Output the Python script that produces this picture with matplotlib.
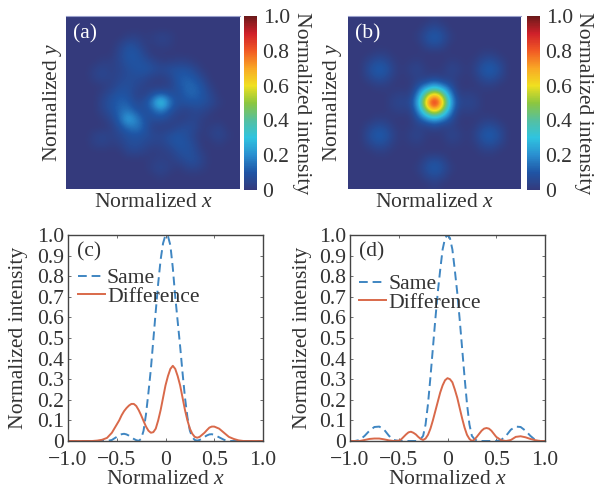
import matplotlib
matplotlib.use("Agg")
import matplotlib.pyplot as plt
import numpy as np
from matplotlib.colors import LinearSegmentedColormap

plt.rcParams['font.family'] = ['Liberation Serif', 'DejaVu Serif']
plt.rcParams['mathtext.fontset'] = 'custom'
plt.rcParams['mathtext.rm'] = 'Liberation Serif'
plt.rcParams['mathtext.it'] = 'Liberation Serif:italic'

W, H = 594, 488
FS = 15.6
TXT = '#333333'

# intensity, 21 x 21 cells
field_a = [
    [0, 0, 0, 0, 0, 0, 0, 0, 0, 0, 0, 0, 0, 0, 0, 0, 0, 0, 0, 0, 0],
    [0, 0, 0, 0, 0, 0, 0, 0, 0, 0, 0, 0, 0, 0, 0, 0, 0, 0, 0, 0, 0],
    [0, 0, 0, 0, 0, 0, 0, .02, .03, .01, .02, .04, .03, 0, 0, 0, 0, 0, 0, 0, 0],
    [0, 0, 0, 0, 0, 0, .03, .08, .07, .02, .01, .03, .02, 0, 0, 0, 0, 0, 0, 0, 0],
    [0, 0, 0, 0, 0, 0, .05, .10, .10, .05, 0, 0, 0, 0, 0, 0, 0, 0, 0, 0, 0],
    [0, 0, 0, 0, .02, .02, .05, .09, .10, .08, .05, .02, .02, .03, .03, .01, 0, 0, 0, 0, 0],
    [0, 0, 0, .03, .05, .03, .04, .07, .09, .10, .08, .06, .08, .09, .09, .06, .01, 0, 0, 0, 0],
    [0, 0, 0, .03, .05, .03, .05, .07, .07, .06, .03, .02, .04, .10, .12, .10, .05, 0, 0, 0, 0],
    [0, 0, 0, 0, .01, .03, .07, .08, .06, .03, .015, .02, .03, .09, .13, .13, .09, .02, 0, 0, 0],
    [0, 0, 0, 0, .03, .07, .10, .09, .04, .03, .09, .12, .09, .07, .12, .13, .10, .05, 0, 0, 0],
    [0, 0, 0, 0, .05, .09, .12, .12, .06, .08, .17, .38, .17, .08, .09, .10, .09, .06, .02, 0, 0],
    [0, 0, 0, 0, .04, .08, .13, .16, .10, .07, .11, .17, .10, .05, .03, .05, .05, .02, 0, 0, 0],
    [0, 0, 0, 0, .01, .05, .12, .26, .19, .09, .07, .08, .05, .02, .03, .05, .02, 0, 0, 0, 0],
    [0, 0, 0, 0, 0, .02, .08, .14, .17, .11, .03, .02, .02, .05, .07, .06, .01, .02, .04, 0, 0],
    [0, 0, 0, .03, .05, .03, .05, .08, .09, .08, .06, .05, .08, .10, .08, .04, 0, .03, .05, .02, 0],
    [0, 0, 0, .03, .04, .02, .03, .07, .08, .06, .04, .04, .07, .10, .09, .06, 0, 0, .02, 0, 0],
    [0, 0, 0, 0, 0, 0, 0, .04, .05, .03, .01, .02, .03, .07, .09, .07, .02, 0, 0, 0, 0],
    [0, 0, 0, 0, 0, 0, 0, 0, 0, 0, .02, .03, .02, .04, .07, .08, .04, 0, 0, 0, 0],
    [0, 0, 0, 0, 0, 0, 0, 0, 0, 0, .03, .05, .03, 0, .03, .04, .02, 0, 0, 0, 0],
    [0, 0, 0, 0, 0, 0, 0, 0, 0, 0, 0, .02, 0, 0, 0, 0, 0, 0, 0, 0, 0],
    [0, 0, 0, 0, 0, 0, 0, 0, 0, 0, 0, 0, 0, 0, 0, 0, 0, 0, 0, 0, 0],
]

# panel (b) is mirror symmetric, so only rows 0-10 are listed
field_b_top = [
    [0, 0, 0, 0, 0, 0, 0, 0, 0, 0, .02, 0, 0, 0, 0, 0, 0, 0, 0, 0, 0],
    [0, 0, 0, 0, 0, 0, 0, 0, 0, .04, .07, .04, 0, 0, 0, 0, 0, 0, 0, 0, 0],
    [0, 0, 0, 0, 0, 0, 0, 0, .02, .08, .12, .08, .02, 0, 0, 0, 0, 0, 0, 0, 0],
    [0, 0, 0, 0, 0, 0, 0, 0, 0, .05, .08, .05, 0, 0, 0, 0, 0, 0, 0, 0, 0],
    [0, 0, 0, .02, .02, 0, 0, 0, 0, 0, 0, 0, 0, 0, 0, 0, .02, .02, 0, 0, 0],
    [0, 0, .04, .08, .07, .02, 0, .01, .02, 0, 0, 0, .02, .01, 0, .02, .07, .08, .04, 0, 0],
    [0, 0, .07, .12, .11, .04, 0, .03, .05, .01, 0, .01, .05, .03, 0, .04, .11, .12, .07, 0, 0],
    [0, 0, .04, .08, .07, .02, 0, .01, .03, .02, .05, .02, .03, .01, 0, .02, .07, .08, .04, 0, 0],
    [0, 0, 0, .02, .02, 0, 0, 0, .08, .17, .24, .17, .08, 0, 0, 0, .02, .02, 0, 0, 0],
    [0, 0, 0, 0, 0, .02, .03, .02, .17, .48, .68, .48, .17, .02, .03, .02, 0, 0, 0, 0, 0],
    [0, 0, 0, 0, 0, .04, .05, .05, .24, .68, 1.0, .68, .24, .05, .05, .04, 0, 0, 0, 0, 0],
]
field_b = field_b_top + field_b_top[-2::-1]

cbar_ticks = [0, 0.2, 0.4, 0.6, 0.8, 1.0]
cbar_labels = ['0', '0.2', '0.4', '0.6', '0.8', '1.0']

cmap_stops = ['#343a7c', '#1f55a5', '#2a8fd0', '#2fc4e0', '#55c0a0', '#8cc63f',
              '#f0e020', '#f9a825', '#f15a24', '#d0202a', '#6b1a1a']

# line profiles, every 0.05 in the tails and every 0.025 from -0.5 to 0.5
x_vals = ([round(-1 + 0.05 * i, 3) for i in range(10)]
          + [round(-0.5 + 0.025 * i, 3) for i in range(41)]
          + [round(0.55 + 0.05 * i, 3) for i in range(10)])

c_same = [0, 0, 0, 0, 0, 0, 0, 0, 0, .005,
          .02, .028, .033, .035, .032, .026, .018, .01, .004, .001, .01, .05, .13, .235, .35, .49, .63, .765, .88, .96, 1.0,
          .995, .95, .84, .70, .58, .46, .33, .21, .115, .05, .018, .005, .002, .005, .012, .02, .027, .032, .033, .03,
          .018, .006, 0, 0, 0, 0, 0, 0, 0, 0]
c_diff = [0, 0, 0, 0, 0, 0, .002, .006, .015, .04,
          .08, .1, .125, .145, .16, .172, .18, .18, .17, .15, .125, .097, .07, .05, .04, .043, .06, .1, .15, .21, .27,
          .315, .35, .365, .35, .315, .27, .21, .15, .1, .06, .035, .02, .016, .02, .03, .04, .053, .065, .07, .07,
          .06, .04, .02, .01, .003, 0, 0, 0, 0, 0]
d_same = [0, 0, .005, .025, .05, .068, .07, .055, .025, .005,
          0, 0, 0, 0, 0, 0, 0, 0, .002, .01, .025, .08, .18, .31, .45, .59, .72, .83, .93, .985, 1.0,
          .985, .93, .83, .72, .59, .45, .31, .18, .08, .025, .01, .002, 0, 0, 0, 0, 0, 0, 0, 0,
          .005, .025, .055, .07, .068, .05, .025, .005, 0, 0]
d_diff = [0, 0, 0, .005, .01, .012, .012, .008, .003, 0,
          .002, .008, .02, .032, .042, .045, .04, .032, .02, .01, .005, .012, .03, .06, .10, .145, .19, .235, .27, .295, .305,
          .3, .285, .25, .21, .16, .11, .065, .03, .01, 0, .006, .02, .035, .05, .06, .063, .06, .05, .035, .02,
          .004, 0, .005, .02, .023, .018, .01, .004, 0, 0]

x_ticks = [-1, -0.5, 0, 0.5, 1]
x_labels = ['\u22121.0', '\u22120.5', '0', '0.5', '1.0']
y_ticks = [i / 10 for i in range(11)]
y_labels = ['0'] + ['%.1f' % (i / 10) for i in range(1, 11)]


def px_axes(fig, left, top, right, bottom):
    return fig.add_axes([left / W, 1 - bottom / H, (right - left) / W, (bottom - top) / H])


fig = plt.figure(figsize=(W / 100, H / 100), dpi=100)
cmap = LinearSegmentedColormap.from_list('nearjet', cmap_stops)


def heat(field, tag, box, cbox, ylab_x, cbl_x, shift):
    ax = px_axes(fig, *box)
    ax.set_facecolor(cmap(0))
    ext = (-0.5 - shift, 20.5 - shift, 20.5, -0.5)
    im = ax.imshow(np.array(field), cmap=cmap, vmin=0, vmax=1, interpolation='bicubic',
                   aspect='auto', extent=ext)
    ax.set_xlim(-0.5, 20.5)
    ax.set_ylim(20.5, -0.5)
    ax.set_xticks([])
    ax.set_yticks([])
    for s in ax.spines.values():
        s.set_visible(False)
    ax.spines['top'].set_visible(True)
    ax.spines['top'].set_color('#9aa0cc')
    ax.spines['top'].set_linewidth(0.8)
    ax.text(0.04, 0.95, tag, color='white', fontsize=FS, transform=ax.transAxes, va='top', ha='left')
    ax.set_xlabel('Normalized $x$', fontsize=FS, color=TXT, labelpad=3)
    fig.text(ylab_x / W, 1 - (box[1] + box[3]) / 2 / H, 'Normalized $y$', rotation=90,
             fontsize=FS, color=TXT, ha='center', va='center')
    cax = px_axes(fig, *cbox)
    cb = fig.colorbar(im, cax=cax)
    cb.outline.set_visible(False)
    cb.set_ticks(cbar_ticks)
    cb.set_ticklabels(cbar_labels)
    cax.tick_params(length=0, pad=4, labelsize=FS, labelcolor=TXT)
    fig.text(cbl_x / W, 1 - (cbox[1] + cbox[3]) / 2 / H, 'Normalized intensity', rotation=270,
             fontsize=FS, color=TXT, ha='center', va='center')


heat(field_a, '(a)', (66, 16, 240, 189), (244, 16, 257, 190), 52, 302, 0.1)
heat(field_b, '(b)', (348, 16, 521, 189), (527, 16, 540, 190), 333, 584, 0)


def profile(same, diff, tag, box, ylab_x, leg_xy):
    ax = px_axes(fig, *box)
    ax.plot(x_vals, same, color='#3f86c2', ls=(0, (4.5, 2.5)), lw=1.4, label='Same')
    ax.plot(x_vals, diff, color='#d9694a', lw=1.4, label='Difference')
    ax.set_xlim(-1, 1)
    ax.set_ylim(0, 1)
    ax.set_xticks(x_ticks)
    ax.set_xticklabels(x_labels)
    ax.set_yticks(y_ticks)
    ax.set_yticklabels(y_labels)
    ax.tick_params(direction='in', length=2, width=0.6, top=True, right=True, labelsize=FS,
                   labelcolor=TXT, color='#555555', pad=3)
    ax.tick_params(axis='x', pad=7.5)
    for s in ax.spines.values():
        s.set_color('#444444')
        s.set_linewidth(1.0)
    ax.set_xlabel('Normalized $x$', fontsize=FS, color=TXT, labelpad=0)
    fig.text(ylab_x / W, 1 - (box[1] + box[3]) / 2 / H, 'Normalized intensity', rotation=90,
             fontsize=FS, color=TXT, ha='center', va='center')
    ax.text(0.045, 0.965, tag, color=TXT, fontsize=FS, transform=ax.transAxes, va='top', ha='left')
    ax.legend(loc='upper left', bbox_to_anchor=leg_xy, frameon=False, fontsize=FS, labelcolor=TXT,
              handlelength=1.25, handletextpad=0.1, labelspacing=-0.08, borderpad=0, borderaxespad=0)
    return ax


profile(c_same, c_diff, '(c)', (68, 235, 263, 441), 19, (0.05, 0.84))
profile(d_same, d_diff, '(d)', (350, 235, 545, 441), 302.5, (0.045, 0.81))

fig.savefig('out.png', dpi=100)
